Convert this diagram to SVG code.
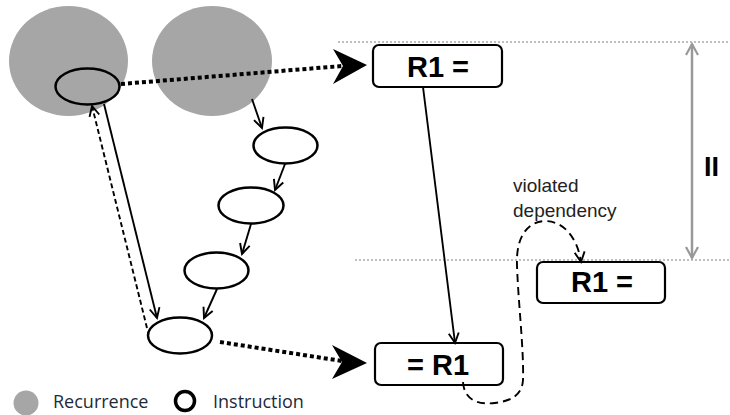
<svg xmlns="http://www.w3.org/2000/svg" width="730" height="415" viewBox="0 0 730 415">
<style>
.rec{fill:#a6a6a6;stroke:none}
.ins{fill:#fff;stroke:#000;stroke-width:2.5}
.box{fill:#fff;stroke:#000;stroke-width:2.2}
.bt{font-family:"Liberation Sans",Arial,sans-serif;font-weight:bold;font-size:29px;fill:#000;text-anchor:middle}
.ln{fill:none;stroke:#000;stroke-width:1.9}
.dot{fill:none;stroke:#000;stroke-width:4;stroke-dasharray:4 3}
.grid{fill:none;stroke:#aaa;stroke-width:1.5;stroke-dasharray:2 2}
.lbl{font-family:"Liberation Sans",Arial,sans-serif;font-size:19px;fill:#222}
.leg{font-family:"Open Sans","Liberation Sans",sans-serif;font-size:18px;fill:#1e2a3a}
</style>
<defs>
<marker id="v" markerUnits="userSpaceOnUse" markerWidth="14" markerHeight="14" refX="11" refY="6" orient="auto" viewBox="0 0 14 12">
<path d="M1,1 L11,6 L1,11" fill="none" stroke="#000" stroke-width="1.9"/>
</marker>
<marker id="vg" markerUnits="userSpaceOnUse" markerWidth="16" markerHeight="16" refX="12" refY="7" orient="auto-start-reverse" viewBox="0 0 16 14">
<path d="M1,1 L12,7 L1,13" fill="none" stroke="#999" stroke-width="2.2"/>
</marker>
</defs>

<g id="grid-lines">
<line class="grid" x1="338" y1="42" x2="730" y2="42"/>
<line class="grid" x1="355" y1="260" x2="730" y2="260"/>
</g>

<g id="recurrence-1"><ellipse class="rec" cx="68.5" cy="61" rx="59.5" ry="55"/></g>
<g id="recurrence-2"><ellipse class="rec" cx="212" cy="61" rx="60" ry="55"/></g>

<g id="instruction-1"><ellipse cx="87.5" cy="86.5" rx="32" ry="18" fill="none" stroke="#000" stroke-width="2.5"/></g>
<g id="instruction-2"><ellipse class="ins" cx="285.5" cy="145.5" rx="32" ry="18"/></g>
<g id="instruction-3"><ellipse class="ins" cx="251" cy="205.5" rx="32.5" ry="18"/></g>
<g id="instruction-4"><ellipse class="ins" cx="216.5" cy="270.5" rx="32" ry="18"/></g>
<g id="instruction-5"><ellipse class="ins" cx="180" cy="335.5" rx="32" ry="18"/></g>

<g id="box-top"><rect class="box" x="373" y="45" width="129" height="42" rx="6"/><text class="bt" x="438" y="77">R1 =</text></g>
<g id="box-bottom"><rect class="box" x="375" y="343" width="128" height="42" rx="6"/><text class="bt" x="438" y="375">= R1</text></g>
<g id="box-right"><rect class="box" x="537" y="262" width="128" height="41" rx="6"/><text class="bt" x="602" y="292">R1 =</text></g>

<g id="connectors">
<line class="dot" x1="121" y1="84" x2="342" y2="66"/>
<polygon points="367,65 333,49 343,66 333,84" fill="#000"/>
<line class="dot" x1="220" y1="342" x2="342" y2="361"/>
<polygon points="367,363 332,345 342,362 332,379" fill="#000"/>
<line class="ln" x1="104" y1="104" x2="157" y2="318" marker-end="url(#v)"/>
<line class="ln" x1="147" y1="328" x2="92" y2="106" stroke-dasharray="5 3" marker-end="url(#v)"/>
<line class="ln" x1="252" y1="99" x2="262" y2="128" marker-end="url(#v)"/>
<line class="ln" x1="285" y1="164" x2="275" y2="190" marker-end="url(#v)"/>
<line class="ln" x1="251" y1="224" x2="242" y2="254" marker-end="url(#v)"/>
<line class="ln" x1="217" y1="289" x2="204" y2="318" marker-end="url(#v)"/>
<line class="ln" x1="423" y1="87" x2="455" y2="343" marker-end="url(#v)"/>
<path class="ln" d="M463,382 C464,400 478,405 495,403 C510,401 522,396 523,380 C524,350 518,300 517,265 C516,240 525,222 545,221 C565,221 578,240 581,262" stroke-dasharray="8 5" marker-end="url(#v)"/>
<line x1="692" y1="44" x2="692" y2="258" stroke="#999" stroke-width="2.5" marker-start="url(#vg)" marker-end="url(#vg)"/>
</g>

<g id="labels">
<text class="lbl" x="513" y="192">violated</text>
<text class="lbl" x="513" y="217">dependency</text>
<text x="704" y="176" font-family="Liberation Sans,Arial,sans-serif" font-weight="bold" font-size="27px" fill="#000">II</text>
</g>

<g id="legend">
<circle class="rec" cx="26" cy="403" r="12.5"/>
<text class="leg" x="53" y="408">Recurrence</text>
<circle cx="185" cy="401" r="9.5" fill="none" stroke="#000" stroke-width="3.5"/>
<text class="leg" x="213" y="408">Instruction</text>
</g>
</svg>
